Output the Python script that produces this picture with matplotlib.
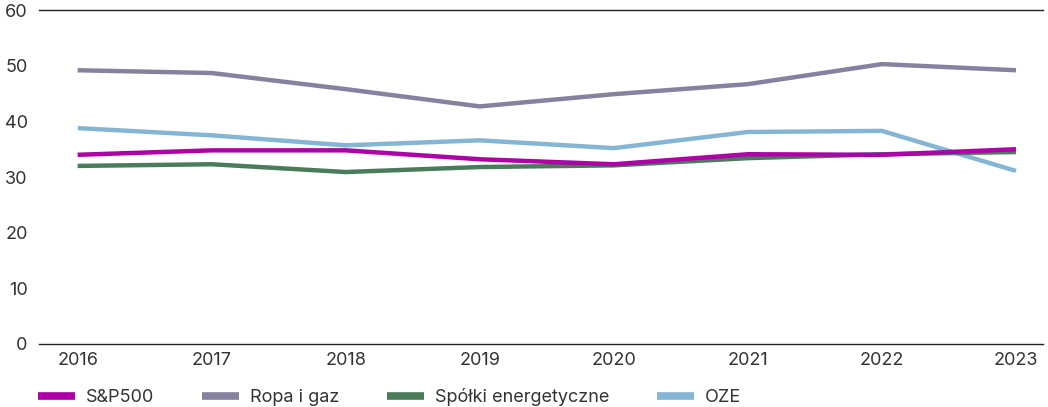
import matplotlib.pyplot as plt
from matplotlib.lines import Line2D

# DATA
years = ["2016", "2017", "2018", "2019", "2020", "2021", "2022", "2023"]
sp500 = [34.0, 34.8, 34.8, 33.2, 32.3, 34.1, 34.0, 35.0]
ropa_gaz = [49.2, 48.7, 45.8, 42.7, 44.9, 46.7, 50.3, 49.2]
spolki = [32.0, 32.3, 30.9, 31.8, 32.1, 33.4, 34.1, 34.5]
oze = [38.8, 37.5, 35.7, 36.6, 35.2, 38.1, 38.3, 31.1]

series = [
    ("S&P500", sp500, "#ad00a6"),
    ("Ropa i gaz", ropa_gaz, "#8582a0"),
    ("Spółki energetyczne", spolki, "#4a7c5b"),
    ("OZE", oze, "#85b5d5"),
]

plt.rcParams['font.family'] = ['Inter', 'DejaVu Sans']

fig = plt.figure(figsize=(10.48, 4.07), dpi=100)
ax = fig.add_axes([0.037, 0.155, 0.958, 0.82])

x = list(range(len(years)))
# draw in order so magenta ends on top
for name, vals, col in [series[1], series[3], series[2], series[0]]:
    ax.plot(x, vals, color=col, lw=3.2, solid_capstyle='butt')

ax.set_ylim(0, 60)
ax.set_xlim(-0.29, 7.2)
ax.set_yticks(range(0, 61, 10))
ax.set_xticks(x)
ax.set_xticklabels(years)

for s in ['left', 'right']:
    ax.spines[s].set_visible(False)
for s in ['top', 'bottom']:
    ax.spines[s].set_color('#222222')
    ax.spines[s].set_linewidth(1.0)

ax.tick_params(axis='both', length=0, labelsize=13, colors='#333333')
ax.tick_params(axis='y', pad=8)
ax.tick_params(axis='x', pad=6)

handles = [Line2D([0], [0], color=col, lw=5.5, solid_capstyle='butt') for _, _, col in series]
labels = [name for name, _, _ in series]
fig.legend(handles, labels, loc='center left', bbox_to_anchor=(0.0363, 0.025),
           ncol=4, frameon=False, fontsize=13, handlelength=2.05,
           handletextpad=0.6, columnspacing=2.65, borderpad=0, borderaxespad=0,
           labelcolor='#333333')

plt.savefig("out.png", dpi=100)
